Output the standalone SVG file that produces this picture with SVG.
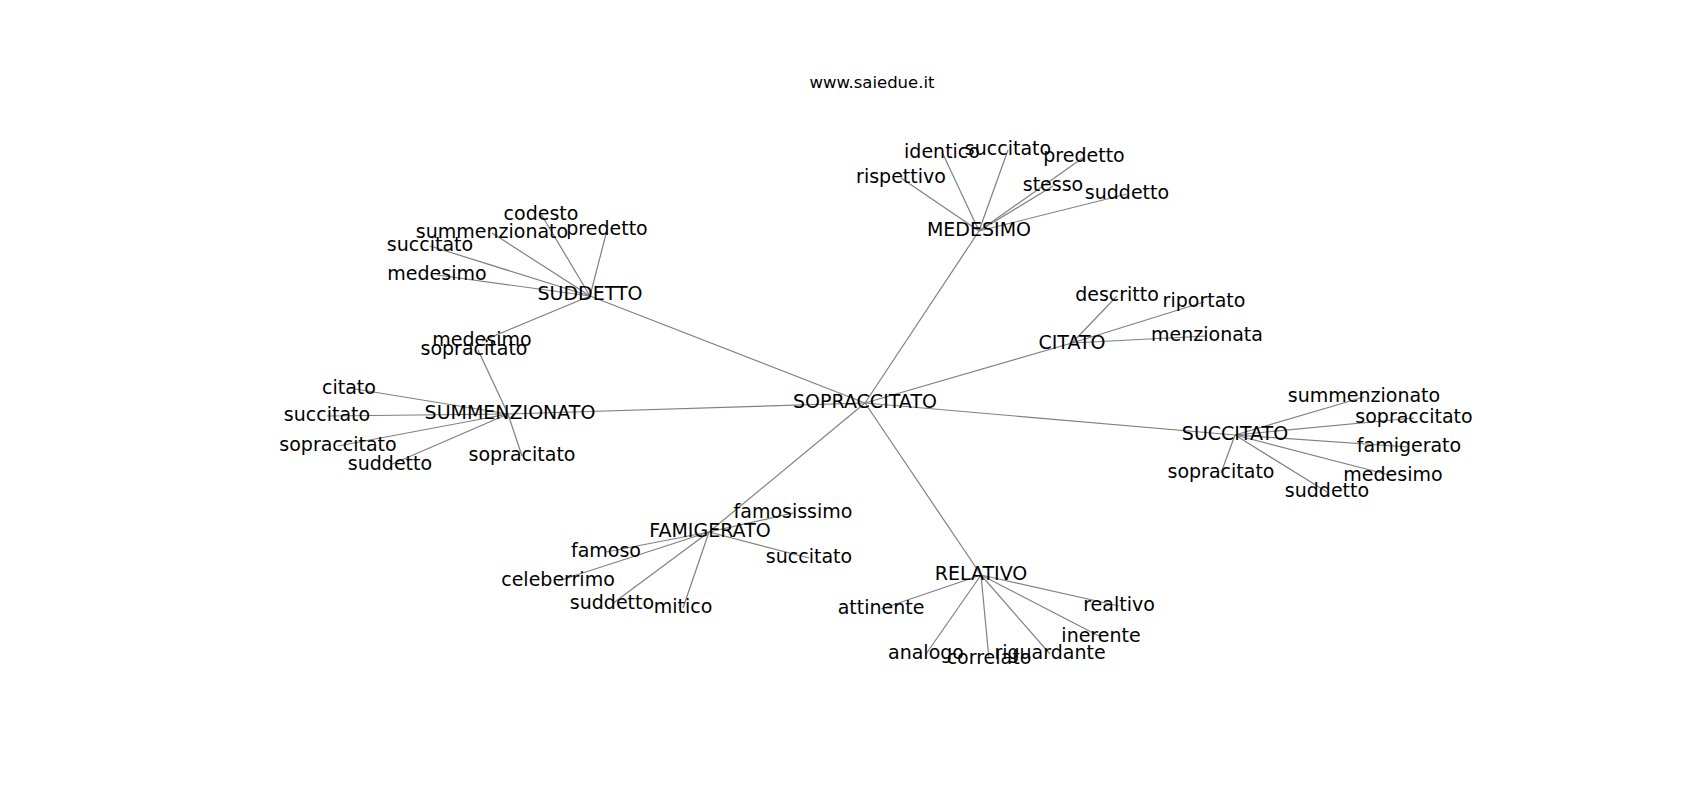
<svg xmlns="http://www.w3.org/2000/svg" width="1700" height="800" viewBox="0 0 1700 800">
<style>
text{font-family:"DejaVu Sans",sans-serif;font-size:19px;fill:#000;text-anchor:middle}
.t{font-size:16.5px}
line{stroke:#808080;stroke-width:1.2}
</style>
<rect width="1700" height="800" fill="#fff"/>
<text class="t" x="872" y="88">www.saiedue.it</text>
<g id="edges">
<line x1="865" y1="403" x2="590" y2="296"/>
<line x1="865" y1="403" x2="979" y2="231"/>
<line x1="865" y1="403" x2="1072" y2="343"/>
<line x1="865" y1="403" x2="1235" y2="435"/>
<line x1="865" y1="403" x2="981" y2="575"/>
<line x1="865" y1="403" x2="709" y2="532"/>
<line x1="865" y1="403" x2="508" y2="414"/>
<line x1="979" y1="231" x2="942" y2="152"/>
<line x1="979" y1="231" x2="1008" y2="150"/>
<line x1="979" y1="231" x2="1084" y2="157"/>
<line x1="979" y1="231" x2="901" y2="178"/>
<line x1="979" y1="231" x2="1053" y2="186"/>
<line x1="979" y1="231" x2="1127" y2="194"/>
<line x1="590" y1="296" x2="541" y2="214"/>
<line x1="590" y1="296" x2="492" y2="233"/>
<line x1="590" y1="296" x2="607" y2="230"/>
<line x1="590" y1="296" x2="430" y2="246"/>
<line x1="590" y1="296" x2="437" y2="275"/>
<line x1="590" y1="296" x2="482" y2="341"/>
<line x1="508" y1="414" x2="478" y2="350"/>
<line x1="508" y1="414" x2="349" y2="388"/>
<line x1="508" y1="414" x2="327" y2="416"/>
<line x1="508" y1="414" x2="338" y2="446"/>
<line x1="508" y1="414" x2="390" y2="465"/>
<line x1="508" y1="414" x2="522" y2="456"/>
<line x1="709" y1="532" x2="793" y2="513"/>
<line x1="709" y1="532" x2="606" y2="552"/>
<line x1="709" y1="532" x2="809" y2="558"/>
<line x1="709" y1="532" x2="558" y2="581"/>
<line x1="709" y1="532" x2="612" y2="604"/>
<line x1="709" y1="532" x2="683" y2="608"/>
<line x1="981" y1="575" x2="881" y2="609"/>
<line x1="981" y1="575" x2="1119" y2="606"/>
<line x1="981" y1="575" x2="1101" y2="637"/>
<line x1="981" y1="575" x2="926" y2="654"/>
<line x1="981" y1="575" x2="989" y2="659"/>
<line x1="981" y1="575" x2="1050" y2="654"/>
<line x1="1072" y1="343" x2="1117" y2="296"/>
<line x1="1072" y1="343" x2="1204" y2="302"/>
<line x1="1072" y1="343" x2="1207" y2="336"/>
<line x1="1235" y1="435" x2="1364" y2="397"/>
<line x1="1235" y1="435" x2="1414" y2="418"/>
<line x1="1235" y1="435" x2="1409" y2="447"/>
<line x1="1235" y1="435" x2="1393" y2="476"/>
<line x1="1235" y1="435" x2="1327" y2="492"/>
<line x1="1235" y1="435" x2="1221" y2="473"/>
</g>
<g id="n-sopraccitato"><text x="865" y="408">SOPRACCITATO</text></g>
<g id="n-medesimo"><text x="979" y="236">MEDESIMO</text></g>
<g id="n-suddetto"><text x="590" y="300">SUDDETTO</text></g>
<g id="n-summenzionato"><text x="510" y="419">SUMMENZIONATO</text></g>
<g id="n-citato"><text x="1072" y="349">CITATO</text></g>
<g id="n-succitato"><text x="1235" y="440">SUCCITATO</text></g>
<g id="n-famigerato"><text x="710" y="537">FAMIGERATO</text></g>
<g id="n-relativo"><text x="981" y="580">RELATIVO</text></g>
<g id="leaves-medesimo">
<text x="942" y="158">identico</text>
<text x="1008" y="155">succitato</text>
<text x="1084" y="162">predetto</text>
<text x="901" y="183">rispettivo</text>
<text x="1053" y="191">stesso</text>
<text x="1127" y="199">suddetto</text>
</g>
<g id="leaves-suddetto">
<text x="541" y="220">codesto</text>
<text x="492" y="238">summenzionato</text>
<text x="607" y="235">predetto</text>
<text x="430" y="251">succitato</text>
<text x="437" y="280">medesimo</text>
<text x="482" y="346">medesimo</text>
</g>
<g id="leaves-summenzionato">
<text x="474" y="355">sopracitato</text>
<text x="349" y="394">citato</text>
<text x="327" y="421">succitato</text>
<text x="338" y="451">sopraccitato</text>
<text x="390" y="470">suddetto</text>
<text x="522" y="461">sopracitato</text>
</g>
<g id="leaves-famigerato">
<text x="793" y="518">famosissimo</text>
<text x="606" y="557">famoso</text>
<text x="809" y="563">succitato</text>
<text x="558" y="586">celeberrimo</text>
<text x="612" y="609">suddetto</text>
<text x="683" y="613">mitico</text>
</g>
<g id="leaves-relativo">
<text x="881" y="614">attinente</text>
<text x="1119" y="611">realtivo</text>
<text x="1101" y="642">inerente</text>
<text x="926" y="659">analogo</text>
<text x="989" y="664">correlato</text>
<text x="1050" y="659">riguardante</text>
</g>
<g id="leaves-citato">
<text x="1117" y="301">descritto</text>
<text x="1204" y="307">riportato</text>
<text x="1207" y="341">menzionata</text>
</g>
<g id="leaves-succitato">
<text x="1364" y="402">summenzionato</text>
<text x="1414" y="423">sopraccitato</text>
<text x="1409" y="452">famigerato</text>
<text x="1393" y="481">medesimo</text>
<text x="1327" y="497">suddetto</text>
<text x="1221" y="478">sopracitato</text>
</g>
</svg>
